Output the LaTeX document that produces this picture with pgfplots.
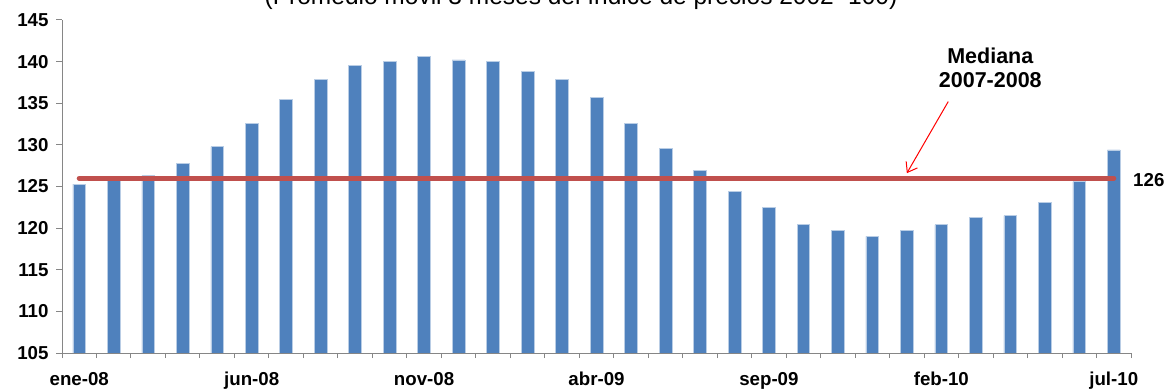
\documentclass[border=0pt]{standalone}
\usepackage{fontspec}
\setmainfont{Liberation Sans}
\usepackage{pgfplots}
\pgfplotsset{compat=1.18}
\usetikzlibrary{arrows.meta}
\definecolor{barblue}{HTML}{4F81BD}
\definecolor{baredge}{HTML}{B9CDE5}
\definecolor{medred}{HTML}{C0504D}
\definecolor{axgray}{HTML}{868686}
\begin{document}
\begin{tikzpicture}
\begin{axis}[
  at={(62bp,39bp)}, anchor=south west,
  scale only axis, width=1069bp, height=333bp,
  xmin=-0.5, xmax=30.5, ymin=105, ymax=145,
  axis x line*=bottom, axis y line*=left,
  axis line style={axgray, line width=1bp},
  ytick={105,110,...,145},
  xtick={0,5,...,30},
  xticklabels={ene-08,jun-08,nov-08,abr-09,sep-09,feb-10,jul-10},
  minor xtick={-0.5,0.5,...,30.5},
  tick align=outside,
  major tick length=6bp, minor tick length=5bp,
  tick style={axgray, line width=1bp},
  major x tick style={draw=none},
  /pgf/number format/assume math mode=true,
  ticklabel style={font=\fontsize{18.7bp}{22bp}\selectfont\bfseries},
  yticklabel style={xshift=-4bp},
  xticklabel style={anchor=base, yshift=-26bp},
  clip mode=individual,
]
\addplot[ybar, bar width=0.37, fill=barblue, draw=baredge, line width=0.6bp] coordinates {
(0,125.3) (1,125.8) (2,126.3) (3,127.8) (4,129.8) (5,132.6) (6,135.5) (7,137.9)
(8,139.5) (9,140.0) (10,140.6) (11,140.2) (12,140.0) (13,138.8) (14,137.9) (15,135.7)
(16,132.6) (17,129.6) (18,126.9) (19,124.4) (20,122.5) (21,120.4) (22,119.7) (23,119.0)
(24,119.7) (25,120.4) (26,121.3) (27,121.5) (28,123.1) (29,125.6) (30,129.4)
};
\addplot[medred, line width=5bp, line cap=round] coordinates {(0,126) (30,126)};
\node[anchor=west, inner sep=0pt, xshift=2bp, yshift=-2bp, font=\fontsize{18.7bp}{22bp}\selectfont\bfseries] at (axis cs:30.5,126) {126};
\node[align=center, font=\fontsize{21.5bp}{24bp}\selectfont\bfseries] at (axis cs:26.42,139.3) {Mediana\\2007-2008};
\draw[red, line width=1bp, -{Straight Barb[length=9bp,width=13bp]}] (axis cs:25.2,135.2) -- (axis cs:24.0,126.6);
\end{axis}
\node[anchor=base, font=\fontsize{24.5bp}{28bp}\selectfont] at (581bp,387bp) {(Promedio móvil 3 meses del índice de precios 2002=100)};
\pgfresetboundingbox
\path (0,0) rectangle (1165bp,392bp);
\end{tikzpicture}
\end{document}
